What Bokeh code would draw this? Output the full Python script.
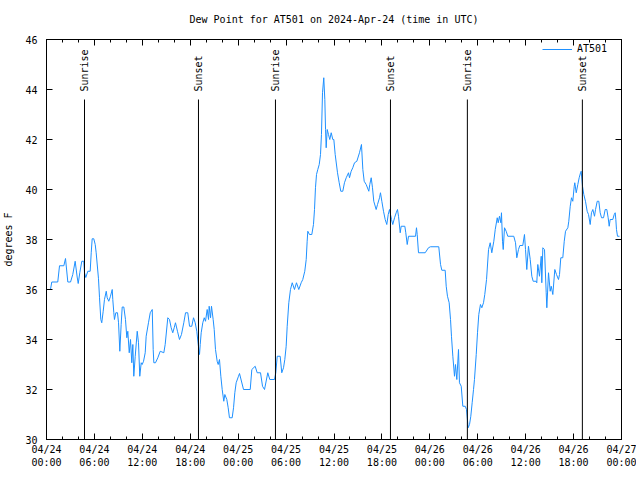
import math
from bokeh.plotting import figure
from bokeh.models import (Range1d, FixedTicker, LinearAxis, Legend, LegendItem, ColumnDataSource,
                          CustomLabelingPolicy)
from bokeh.embed import file_html
from bokeh.resources import INLINE
from bokeh.core.properties import value

# hours since 2024-04-24 00:00 UTC
hours = [0.00, 0.50, 0.66, 1.41, 1.63, 2.17, 2.38, 2.67, 3.01, 3.29, 3.59, 3.84, 3.97, 4.17, 4.42, 4.67,
         4.76, 4.92, 5.17, 5.47, 5.60, 5.72, 5.92, 6.10, 6.22, 6.51, 6.64, 6.80, 6.92, 7.10, 7.26, 7.48,
         7.60, 7.80, 8.01, 8.23, 8.30, 8.43, 8.51, 8.68, 8.89, 9.02, 9.18, 9.35, 9.48, 9.68, 9.89, 10.06,
         10.18, 10.36, 10.52, 10.68, 10.81, 10.93, 11.11, 11.36, 11.52, 11.68, 11.86, 11.98, 12.15, 12.36,
         12.48, 12.77, 12.99, 13.24, 13.36, 13.44, 13.65, 13.94, 14.24, 14.69, 14.86, 15.19, 15.40, 15.61,
         15.81, 15.99, 16.15, 16.40, 16.65, 16.90, 17.19, 17.41, 17.69, 17.91, 18.19, 18.41, 18.62, 18.82,
         19.00, 19.16, 19.25, 19.37, 19.57, 19.75, 19.91, 20.12, 20.29, 20.37, 20.54, 20.66, 20.87, 21.00,
         21.16, 21.37, 21.50, 21.66, 21.83, 22.00, 22.20, 22.33, 22.58, 22.75, 22.91, 23.25, 23.42, 23.58,
         23.75, 24.04, 24.17, 24.67, 25.51, 25.71, 26.13, 26.38, 26.80, 27.05, 27.30, 27.71, 27.96, 28.55,
         28.71, 28.89, 29.26, 29.46, 29.68, 29.84, 30.01, 30.14, 30.34, 30.55, 30.77, 31.05, 31.30, 31.59,
         31.89, 32.09, 32.34, 32.52, 32.64, 32.72, 32.93, 33.22, 33.43, 33.56, 33.68, 33.81, 33.97, 34.15,
         34.31, 34.43, 34.56, 34.72, 34.85, 34.94, 35.02, 35.15, 35.31, 35.47, 35.65, 35.85, 35.98, 36.15,
         36.44, 36.65, 36.85, 37.10, 37.31, 37.53, 37.82, 37.94, 38.15, 38.35, 38.57, 38.86, 39.19, 39.44,
         39.61, 39.78, 40.03, 40.36, 40.48, 40.66, 40.82, 40.98, 41.28, 41.45, 41.70, 41.82, 41.99, 42.20,
         42.41, 42.61, 42.79, 42.95, 43.20, 43.36, 43.58, 43.79, 43.95, 44.08, 44.29, 44.41, 44.87, 44.99,
         45.17, 45.33, 46.21, 46.33, 46.42, 46.58, 47.42, 47.83, 48.08, 49.12, 49.34, 49.50, 49.92, 50.05,
         50.21, 50.42, 50.59, 50.71, 50.88, 51.09, 51.21, 51.38, 51.59, 51.71, 51.93, 52.13, 52.43, 52.59,
         52.80, 52.97, 53.13, 53.30, 53.47, 53.59, 53.81, 53.97, 54.13, 54.34, 54.51, 54.72, 54.88, 55.10,
         55.35, 55.56, 55.76, 56.01, 56.19, 56.44, 56.56, 56.72, 56.89, 56.97, 57.10, 57.19, 57.35, 57.56,
         57.76, 58.51, 58.73, 58.89, 59.10, 59.27, 59.64, 59.85, 59.98, 60.14, 60.35, 60.57, 60.77, 60.94,
         61.32, 61.39, 61.52, 61.73, 61.95, 62.02, 62.15, 62.36, 62.57, 62.65, 62.86, 63.07, 63.20, 63.40,
         63.65, 63.86, 64.11, 64.24, 64.40, 64.65, 64.83, 64.99, 65.28, 65.40, 65.58, 65.74, 65.90, 66.08,
         66.15, 66.33, 66.53, 66.70, 66.87, 66.95, 67.12, 67.28, 67.49, 67.70, 67.87, 68.08, 68.24, 68.41,
         68.62, 68.75, 68.96, 69.16, 69.33, 69.50, 69.75, 69.96, 70.16, 70.33, 70.46, 70.58, 70.91, 71.09,
         71.21, 71.29, 71.37, 71.50, 71.75]

dewpoint = [36.00, 36.00, 36.30, 36.30, 36.95, 36.95, 37.24, 36.30, 36.30, 36.60, 37.13, 36.50, 36.24, 36.67, 37.13, 37.13,
            36.67, 36.48, 36.73, 36.73, 37.47, 38.03, 38.03, 37.80, 37.47, 36.43, 35.67, 34.80, 34.67, 35.13, 35.60, 35.93,
            35.67, 35.53, 35.73, 36.00, 35.60, 35.07, 34.80, 35.07, 35.07, 34.67, 33.53, 34.60, 35.30, 35.30, 34.80, 34.07,
            34.33, 33.47, 34.00, 33.07, 33.80, 32.53, 33.33, 34.33, 33.87, 32.53, 33.07, 33.00, 33.13, 33.47,
            34.13, 34.67, 35.07, 35.20, 33.60, 33.07, 33.07, 33.27, 33.53, 33.47, 33.80, 34.87, 34.80, 34.47,
            34.27, 34.47, 34.67, 34.33, 34.00, 34.20, 34.67, 35.07, 35.07, 34.53, 34.53, 34.87, 34.67, 34.33,
            33.80, 33.40, 33.80, 34.27, 34.67, 34.87, 34.73, 35.20, 34.80, 35.33, 34.87, 35.33, 34.80, 34.40,
            33.60, 33.13, 33.00, 33.20, 32.53, 32.00, 31.53, 31.80, 31.60, 31.27, 30.87, 30.87, 31.27, 31.87,
            32.27, 32.53, 32.64, 32.00, 32.00, 32.80, 32.93, 32.67, 32.67, 32.13, 32.00, 32.67, 32.40, 32.40,
            32.67, 33.33, 33.33, 32.67, 32.87, 33.20, 33.73, 34.53, 35.47, 36.00, 36.27, 36.00, 36.27, 36.00,
            36.27, 36.40, 36.73, 37.20, 37.93, 38.33, 38.20, 38.20, 38.60, 39.20, 40.07, 40.60, 40.80, 41.00,
            41.40, 42.20, 43.87, 44.47, 43.60, 42.40, 41.67, 42.40, 42.20, 42.00, 42.27, 42.00, 42.00, 41.40,
            40.67, 40.27, 39.93, 39.93, 40.27, 40.47, 40.67, 40.47, 40.73, 40.87, 41.07, 41.13, 41.47, 41.80,
            40.80, 40.33, 40.20, 39.93, 40.20, 40.47, 40.07, 39.53, 39.20, 39.40, 39.67, 39.87, 39.53, 39.13,
            38.80, 38.60, 39.00, 39.20, 38.80, 38.60, 38.87, 39.07, 39.20, 38.93, 38.27, 38.53, 38.53, 38.27,
            37.80, 38.13, 38.13, 38.47, 38.20, 37.47, 37.47, 37.67, 37.71, 37.71, 37.00, 36.77, 36.77, 36.13,
            35.73, 35.47, 34.80, 34.13, 33.33, 32.53, 33.00, 32.40, 33.60, 32.27, 32.13, 31.33, 31.33, 31.20,
            30.47, 30.60, 30.93, 31.47, 32.00, 32.40, 33.40, 34.27, 35.00, 35.40, 35.27, 35.47, 35.80, 36.40,
            37.60, 37.87, 37.47, 37.93, 38.40, 38.87, 38.67, 38.93, 38.67, 39.07, 37.93, 37.60, 38.47, 38.33,
            38.13, 38.13, 37.87, 37.27, 37.60, 37.76, 37.76, 38.20, 37.60, 36.80, 37.73, 37.20, 36.53, 36.33,
            36.33, 36.27, 37.00, 36.53, 37.33, 36.27, 37.67, 37.60, 35.87, 35.27, 36.67, 35.93, 36.13, 35.80,
            36.80, 36.60, 36.40, 36.60, 37.27, 37.27, 37.93, 38.33, 38.47, 38.73, 39.33, 39.67, 39.53, 40.13,
            40.27, 39.87, 40.20, 40.47, 40.67, 40.73, 40.13, 39.80, 39.53, 39.13, 39.00, 38.60, 39.07, 39.20,
            38.93, 39.20, 39.53, 39.53, 39.07, 38.87, 38.87, 39.20, 39.20, 38.87, 38.53, 38.80, 38.80, 39.00,
            39.07, 38.80, 38.40, 38.13, 38.13]

sun_hours = [4.76, 19.03, 28.67, 43.07, 52.70, 67.10]
sun_labels = ["Sunrise", "Sunset", "Sunrise", "Sunset", "Sunrise", "Sunset"]
sun_line_top = 43.6
sun_label_base = 43.92

x_ticks = [0, 6, 12, 18, 24, 30, 36, 42, 48, 54, 60, 66, 72]
x_minor = list(range(0, 73, 2))
x_tick_labels = ["04/24\n00:00", "04/24\n06:00", "04/24\n12:00", "04/24\n18:00",
                 "04/25\n00:00", "04/25\n06:00", "04/25\n12:00", "04/25\n18:00",
                 "04/26\n00:00", "04/26\n06:00", "04/26\n12:00", "04/26\n18:00",
                 "04/27\n00:00"]
y_ticks = [30, 32, 34, 36, 38, 40, 42, 44, 46]

FONT = "DejaVu Sans Mono"
FS = "10px"
BLUE = "#1e90ff"

p = figure(frame_width=575, frame_height=400, output_backend="svg", toolbar_location=None,
           x_range=Range1d(0, 72), y_range=Range1d(30, 46),
           title="Dew Point for AT501 on 2024-Apr-24 (time in UTC)",
           min_border_left=39, min_border_right=10, min_border_top=39, min_border_bottom=32)
p.title.align = "center"
p.title.text_font = FONT
p.title.text_font_size = FS
p.title.text_font_style = "normal"
p.title.text_color = "black"
p.title.standoff = 7

p.xgrid.visible = False
p.ygrid.visible = False
p.outline_line_color = "black"
p.outline_line_width = 1
p.background_fill_color = "white"
p.border_fill_color = "white"

xt = FixedTicker(ticks=x_ticks, minor_ticks=x_minor)
yt = FixedTicker(ticks=y_ticks, minor_ticks=[])

for ax in p.xaxis:
    ax.ticker = xt
    ax.major_label_overrides = {t: l for t, l in zip(x_ticks, x_tick_labels)}
    ax.major_label_standoff = 4
for ax in p.yaxis:
    ax.ticker = yt
    ax.axis_label = "degrees F"
    ax.axis_label_text_font = FONT
    ax.axis_label_text_font_size = FS
    ax.axis_label_text_font_style = "normal"
    ax.axis_label_text_color = "black"
    ax.axis_label_standoff = 8
    ax.major_label_standoff = 9

for ax in list(p.xaxis) + list(p.yaxis):
    ax.major_label_text_font = FONT
    ax.major_label_text_font_size = FS
    ax.major_label_text_color = "black"
    ax.major_tick_in = 6
    ax.major_tick_out = 0
    ax.minor_tick_in = 3
    ax.minor_tick_out = 0
    ax.axis_line_color = "black"
    ax.major_tick_line_color = "black"
    ax.minor_tick_line_color = "black"

top_ax = LinearAxis(ticker=xt, major_label_policy=CustomLabelingPolicy(code=""), major_tick_in=6,
                    major_tick_out=0, minor_tick_in=3, minor_tick_out=0, major_label_standoff=0,
                    axis_line_color="black")
right_ax = LinearAxis(ticker=yt, major_label_policy=CustomLabelingPolicy(code=""), major_tick_in=6,
                      major_tick_out=0, minor_tick_in=0, minor_tick_out=0, major_label_standoff=0,
                      axis_line_color="black")
p.add_layout(top_ax, "above")
p.add_layout(right_ax, "right")

src = ColumnDataSource(dict(t=hours, v=dewpoint))
r = p.line("t", "v", source=src, line_color=BLUE, line_width=1)

sun = ColumnDataSource(dict(x=sun_hours, y0=[30] * len(sun_hours), y1=[sun_line_top] * len(sun_hours),
                            yl=[sun_label_base] * len(sun_hours), label=sun_labels))
p.segment(x0="x", y0="y0", x1="x", y1="y1", source=sun, line_color="black", line_width=1)
p.text(x="x", y="yl", text="label", source=sun, angle=math.pi / 2, text_align="left",
       text_baseline="middle", text_font=value(FONT), text_font_size=FS, text_color="black")

legend = Legend(items=[LegendItem(label="AT501", renderers=[r])], location=(496, 385),
                border_line_color=None, background_fill_alpha=0, label_text_font=FONT,
                label_text_font_size=FS, label_text_color="black", glyph_width=30, glyph_height=10,
                spacing=0, padding=2, margin=0, label_height=10)
p.add_layout(legend)

open("out.html", "w").write(file_html(p, INLINE))
